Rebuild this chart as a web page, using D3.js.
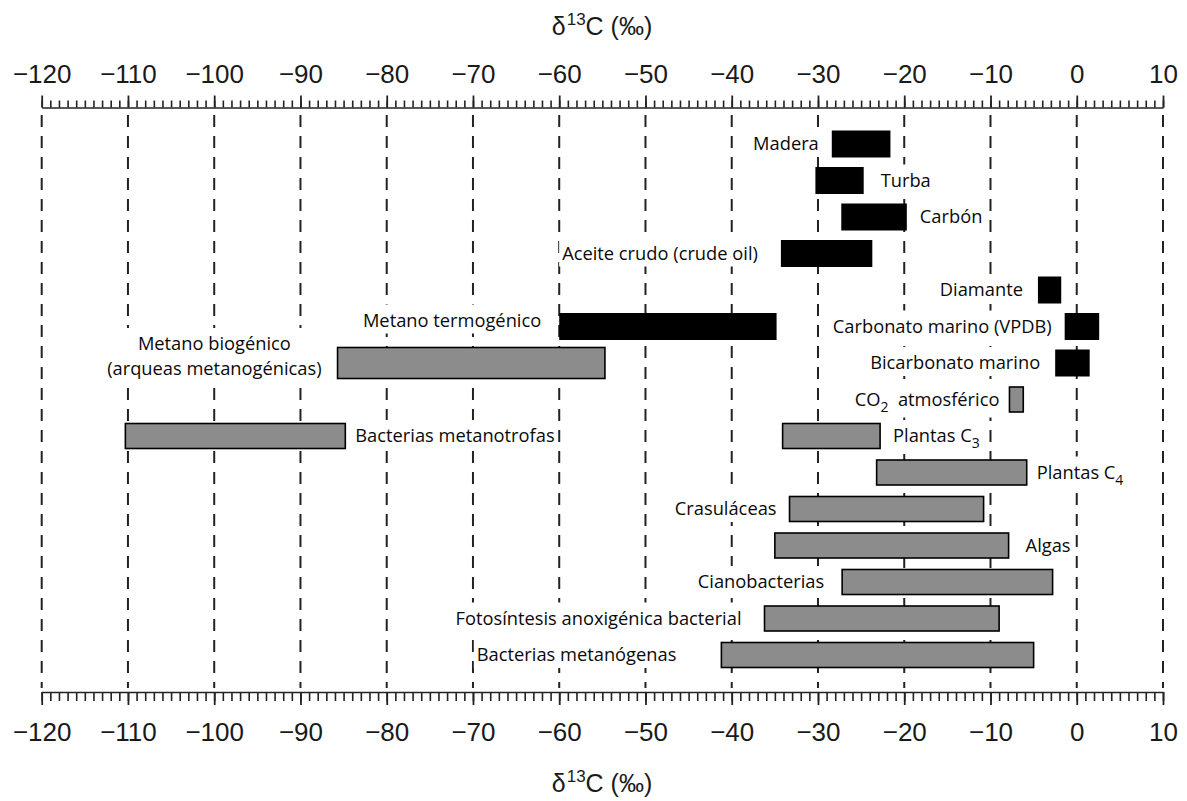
<!DOCTYPE html>
<html>
  <head>
    <style>
      body { margin: 0; background: #fff; }
      .tick text { font-family: "Liberation Sans", Arial, sans-serif; font-size: 26px; fill: #1a1a1a; }
      .label { font-family: "Open Sans", sans-serif; font-size: 18.3px; fill: #0a0a0a; }
      .title { font-family: "Liberation Sans", Arial, sans-serif; font-size: 25px; fill: #1a1a1a; }
    </style>
    <script src="https://d3js.org/d3.v7.min.js"></script>
  </head>
  <body>
    <svg width="1187" height="801"></svg>
    <script>
      // isotope ranges, d13C in permil
      var names = [
        "Madera", "Turba", "Carbón", "Aceite crudo (crude oil)", "Diamante",
        "Metano termogénico", "Carbonato marino (VPDB)",
        "Metano biogénico\n(arqueas metanogénicas)", "Bicarbonato marino",
        "CO_2\u00a0 atmosférico", "Bacterias metanotrofas", "Plantas C_3", "Plantas C_4",
        "Crasuláceas", "Algas", "Cianobacterias",
        "Fotosíntesis anoxigénica bacterial", "Bacterias metanógenas"
      ];
      var lows = [-28.4, -30.3, -27.3, -34.3, -4.5, -60, -1.4, -85.7, -2.5, -7.8, -110.3, -34.1, -23.2, -33.3, -35, -27.2, -36.2, -41.2];
      var highs = [-21.6, -24.7, -19.7, -23.7, -1.8, -34.8, 2.6, -54.7, 1.5, -6.2, -84.8, -22.8, -5.8, -10.8, -7.9, -2.8, -9, -5];
      var rows = [0, 1, 2, 3, 4, 5, 5, 6, 6, 7, 8, 8, 9, 10, 11, 12, 13, 14];
      var majorTicks = d3.range(-120, 11, 10);
      var minorTicks = d3.range(-120, 11, 1);

      var grayBars = ["CO_2\u00a0 atmosférico", "Bacterias metanotrofas", "Plantas C_3", "Plantas C_4",
        "Crasuláceas", "Algas", "Cianobacterias", "Fotosíntesis anoxigénica bacterial",
        "Bacterias metanógenas", "Metano biogénico\n(arqueas metanogénicas)"];
      var rightLabels = ["Turba", "Carbón", "Bacterias metanotrofas", "Plantas C_3", "Plantas C_4", "Algas"];
      var labelGap = { "Turba": 17, "Algas": 17, "Bacterias metanógenas": 45, "Fotosíntesis anoxigénica bacterial": 23,
        "Aceite crudo (crude oil)": 23, "Cianobacterias": 18, "Metano termogénico": 18, "Diamante": 15,
        "Bicarbonato marino": 15, "Metano biogénico\n(arqueas metanogénicas)": 16, "CO_2\u00a0 atmosférico": 10,
        "Bacterias metanotrofas": 10, "Plantas C_4": 10 };

      var svg = d3.select("svg");
      var axisTopY = 107.5, axisBottomY = 692;

      var x = d3.scaleLinear().domain([-120, 10]).range([41.7, 1163]);
      var y = d3.scalePoint().domain(d3.range(15)).range([144, 655]);

      // dashed grid
      svg.append("g")
        .selectAll("line")
        .data(majorTicks)
        .enter()
        .append("line")
        .attr("x1", function (d) { return x(d); })
        .attr("x2", function (d) { return x(d); })
        .attr("y1", 115)
        .attr("y2", 688)
        .attr("stroke", "#222")
        .attr("stroke-width", 2)
        .attr("stroke-dasharray", "12,9");

      // axes
      function addAxis(axisFn, ty, minorSize, majorSize, pad) {
        var g = svg.append("g").attr("transform", "translate(0," + ty + ")");
        g.append("g")
          .call(axisFn(x).tickValues(minorTicks).tickSize(minorSize).tickSizeOuter(0).tickFormat(""))
          .call(function (s) { s.selectAll("line, path").attr("stroke-width", 1.6).attr("stroke", "#222"); });
        g.append("g")
          .call(axisFn(x).tickValues(majorTicks).tickSize(majorSize).tickPadding(pad))
          .call(function (s) {
            s.select(".domain").remove();
            s.selectAll("line").attr("stroke-width", 1.8).attr("stroke", "#222");
          });
        g.selectAll("g").attr("font-family", null).attr("font-size", null);
      }
      addAxis(d3.axisTop, axisTopY, 7, 12, 12.5);
      addAxis(d3.axisBottom, axisBottomY, 9, 13, 18);

      // titles
      function addTitle(yy) {
        var t = svg.append("text").attr("class", "title").attr("x", 602).attr("y", yy).attr("text-anchor", "middle");
        t.append("tspan").text("δ");
        t.append("tspan").attr("font-size", 17).attr("dy", -10).attr("dx", 1).text("13");
        t.append("tspan").attr("dy", 10).text("C (‰)");
      }
      addTitle(35);
      addTitle(792);

      var items = names.map(function (n, i) {
        return { name: n, lo: lows[i], hi: highs[i], row: rows[i] };
      });

      function barH(d) {
        if (d.name.indexOf("Metano biog") === 0) return 31;
        return grayBars.indexOf(d.name) >= 0 ? 25 : 27;
      }

      var labelLayer = svg.append("g");
      var barLayer = svg.append("g");

      barLayer.selectAll("rect")
        .data(items)
        .enter()
        .append("rect")
        .attr("x", function (d) { return x(d.lo); })
        .attr("y", function (d) { return y(d.row) - barH(d) / 2; })
        .attr("width", function (d) { return x(d.hi) - x(d.lo); })
        .attr("height", barH)
        .attr("fill", function (d) { return grayBars.indexOf(d.name) >= 0 ? "#8c8c8c" : "#000"; })
        .attr("stroke", "#000")
        .attr("stroke-width", function (d) { return grayBars.indexOf(d.name) >= 0 ? 1.6 : 0; });

      // write text, turning "_n" into a subscript
      function writeLine(t, s) {
        var parts = s.split(/_(\d)/);
        parts.forEach(function (p, k) {
          if (k % 2 === 1) {
            t.append("tspan").attr("font-size", 14).attr("dy", 6).text(p);
          } else if (p) {
            var sp = t.append("tspan").text(p);
            if (k > 0) sp.attr("dy", -6);
          }
        });
      }

      items.forEach(function (d) {
        var right = rightLabels.indexOf(d.name) >= 0;
        var gap = labelGap[d.name] || 13;
        var lx = right ? x(d.hi) + gap : x(d.lo) - gap;
        var cy = y(d.row);
        var g = labelLayer.append("g");
        var lines = d.name.split("\n");
        if (lines.length === 1) {
          var yy = d.name === "Metano termogénico" ? cy - 6 : cy;
          var t = g.append("text").attr("class", "label")
            .attr("x", lx).attr("y", yy + 6)
            .attr("text-anchor", right ? "start" : "end");
          writeLine(t, d.name);
        } else {
          var t2 = g.append("text").attr("class", "label")
            .attr("x", lx).attr("y", cy + 12).attr("text-anchor", "end").text(lines[1]);
          var w2 = t2.node().getComputedTextLength();
          g.append("text").attr("class", "label")
            .attr("x", lx - w2 / 2).attr("y", cy - 13).attr("text-anchor", "middle").text(lines[0]);
        }
        var b = g.node().getBBox();
        g.insert("rect", ":first-child")
          .attr("x", b.x - 3).attr("y", b.y - 2)
          .attr("width", b.width + 6).attr("height", b.height + 4)
          .attr("fill", "#fff");
      });
    </script>
  </body>
</html>
